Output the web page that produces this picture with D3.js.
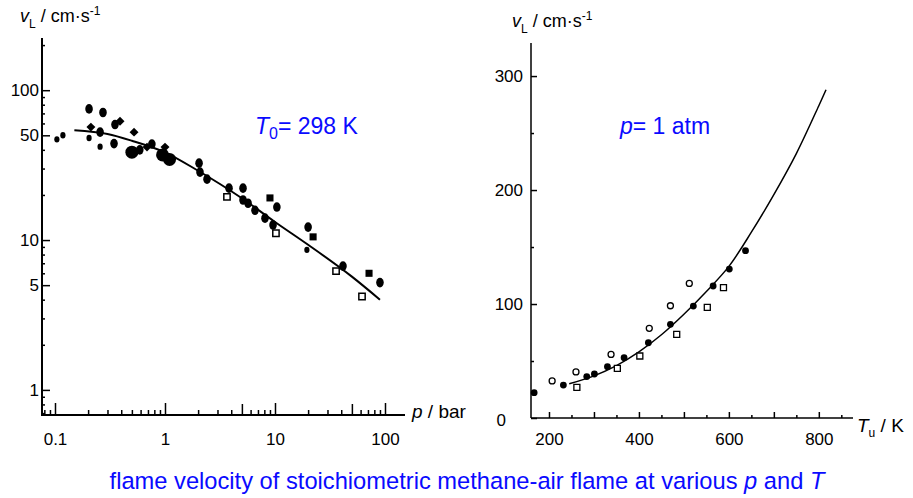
<!DOCTYPE html>
<html>
<head>
<meta charset="utf-8">
<script src="https://cdn.jsdelivr.net/npm/d3@7"></script>
<style>
  body { margin: 0; background: #fff; }
  text { font-family: 'Liberation Sans', Arial, sans-serif; }
</style>
</head>
<body>
<div id="chart"></div>
<script>
// Left panel: flame velocity vs pressure (T0 = 298 K), [p / bar, vL / cm/s]
const pSmallDots = [[0.104, 47], [0.118, 50], [0.204, 48], [0.257, 42], [19.5, 8.6]];
const pDots = [[0.204, 75], [0.273, 71], [0.257, 52.5], [0.351, 59], [0.344, 44], [0.59, 40],
    [0.76, 43.7], [2.04, 32.6], [2.08, 28.4], [2.41, 25.5], [3.82, 22.2], [5.12, 22.2],
    [5.12, 18.5], [5.69, 17.6], [6.58, 15.8], [8.11, 14], [10.4, 16.6], [9.6, 12.6],
    [20, 12.2], [41.5, 6.7], [90, 5.2]];
const pBlobs = [[0.5, 38.6], [0.95, 37], [1.1, 34.5]];
const pDiamonds = [[0.212, 56.7], [0.39, 62], [0.523, 52.5], [0.686, 41.7], [1.0, 41.7]];
const pFilledSquares = [[9.0, 19.1], [22.2, 10.5], [71.6, 6.0]];
const pOpenSquares = [[3.66, 19.4], [10.2, 11.1], [35.9, 6.2], [61.8, 4.2]];
const pFitP = [0.15, 0.3, 0.5, 1, 2, 5, 10, 20, 50, 90];
const pFitV = [54, 51, 46, 38.5, 29, 19, 13.2, 9.3, 5.7, 4.0];
const pXLabels = [0.1, 1, 10, 100];
const pYLabels = [1, 5, 10, 50, 100];

// Right panel: flame velocity vs unburnt temperature (p = 1 atm), [Tu / K, vL / cm/s]
const tFilled = [[167, 22.2], [232, 28.9], [284, 36.3], [301, 38.6], [330, 45], [367, 52.9],
    [421, 66], [470, 82.2], [521, 98.2], [565, 115.8], [601, 130.7], [637, 146.8]];
const tOpenCircles = [[207, 32.5], [260, 40.4], [338, 55.8], [423, 78.7], [470, 98.5], [512, 118.1]];
const tOpenSquares = [[262, 26.9], [352, 43.6], [402, 54.4], [484, 73.4], [552, 97.1], [588, 114.3]];
const tFitT = [245, 300, 350, 400, 450, 500, 550, 600, 650, 700, 750, 800, 816];
const tFitV = [30, 37, 46, 58, 73, 91, 111, 133, 163, 196, 232, 274, 288];
const tXLabels = [200, 400, 600, 800];
const tYLabels = [0, 100, 200, 300];

const caption = 'flame velocity of stoichiometric methane-air flame at various ';
const blue = '#0a0aff';

document.addEventListener('DOMContentLoaded', () => {
    const svg = d3.select('#chart')
        .append('svg')
        .attr('width', 913)
        .attr('height', 498);

    // ---------- Left panel ----------
    const xL = d3.scaleLog().domain([0.0746, 152]).range([41, 405]);
    const yL = d3.scaleLog().domain([0.68, 223]).range([415, 38]);

    const left = svg.append('g');

    // minor ticks
    const xMinor = xL.ticks().filter(d => !pXLabels.includes(d));
    const xMid = xMinor.filter(d => /^5/.test(String(d)));
    left.append('g')
        .attr('transform', 'translate(0,415)')
        .call(d3.axisBottom(xL).tickValues(xMinor.filter(d => !xMid.includes(d))).tickSize(-5).tickFormat(''))
        .call(g => g.select('.domain').remove());
    left.append('g')
        .attr('transform', 'translate(0,415)')
        .call(d3.axisBottom(xL).tickValues(xMid).tickSize(-11).tickFormat(''))
        .call(g => g.select('.domain').remove());
    left.append('g')
        .attr('transform', 'translate(0,415)')
        .call(d3.axisBottom(xL).tickValues(pXLabels).tickSize(-12).tickPadding(18)
            .tickFormat(d => String(d)))
        .call(g => g.select('.domain').attr('d', 'M41,0H405').attr('stroke-width', 2));

    const yMinor = yL.ticks().filter(d => !pYLabels.includes(d));
    left.append('g')
        .attr('transform', 'translate(42,0)')
        .call(d3.axisLeft(yL).tickValues(yMinor).tickSize(-3).tickFormat(''))
        .call(g => g.select('.domain').remove());
    left.append('g')
        .attr('transform', 'translate(42,0)')
        .call(d3.axisLeft(yL).tickValues(pYLabels).tickSize(-8).tickPadding(3)
            .tickFormat(d => String(d)))
        .call(g => g.select('.domain').attr('d', 'M0,38V415').attr('stroke-width', 2));

    left.selectAll('.tick line').attr('stroke-width', 1.5);
    left.selectAll('.tick text').attr('font-size', 17).attr('fill', '#000')
        .style('font-family', "'Liberation Sans', Arial, sans-serif");

    // fit line
    const fitL = d3.line()
        .x(d => xL(d[0]))
        .y(d => yL(d[1]))
        .curve(d3.curveMonotoneX);
    left.append('path')
        .datum(pFitP.map((p, i) => [p, pFitV[i]]))
        .attr('d', fitL)
        .attr('fill', 'none')
        .attr('stroke', '#000')
        .attr('stroke-width', 2);

    // markers
    const ellipses = (data, rx, ry) => left.append('g')
        .selectAll('ellipse')
        .data(data)
        .enter()
        .append('ellipse')
        .attr('cx', d => xL(d[0]))
        .attr('cy', d => yL(d[1]))
        .attr('rx', rx)
        .attr('ry', ry)
        .attr('fill', '#000');
    ellipses(pSmallDots, 2.6, 3.2);
    ellipses(pDots, 3.8, 4.8);
    ellipses(pBlobs, 6.5, 6.5);

    left.append('g')
        .selectAll('path')
        .data(pDiamonds)
        .enter()
        .append('path')
        .attr('d', d3.symbol(d3.symbolSquare, 40))
        .attr('transform', d => `translate(${xL(d[0])},${yL(d[1])}) rotate(45)`)
        .attr('fill', '#000');
    left.append('g')
        .selectAll('path')
        .data(pFilledSquares)
        .enter()
        .append('path')
        .attr('d', d3.symbol(d3.symbolSquare, 50))
        .attr('transform', d => `translate(${xL(d[0])},${yL(d[1])})`)
        .attr('fill', '#000');
    left.append('g')
        .selectAll('path')
        .data(pOpenSquares)
        .enter()
        .append('path')
        .attr('d', d3.symbol(d3.symbolSquare, 40))
        .attr('transform', d => `translate(${xL(d[0])},${yL(d[1])})`)
        .attr('fill', '#fff')
        .attr('stroke', '#000')
        .attr('stroke-width', 1.5);

    // ---------- Right panel ----------
    const xR = d3.scaleLinear().domain([160, 876]).range([531, 853]);
    const yR = d3.scaleLinear().domain([0, 329]).range([418, 43]);

    const right = svg.append('g');

    right.append('g')
        .attr('transform', 'translate(0,418)')
        .call(d3.axisBottom(xR).tickValues(d3.range(250, 900, 100)).tickSize(-3).tickFormat(''))
        .call(g => g.select('.domain').remove());
    right.append('g')
        .attr('transform', 'translate(0,418)')
        .call(d3.axisBottom(xR).tickValues(d3.range(200, 900, 100)).tickSize(-6).tickPadding(15)
            .tickFormat(d => tXLabels.includes(d) ? d : ''))
        .call(g => g.select('.domain').attr('d', 'M531,0H853').attr('stroke-width', 1.5));

    right.append('g')
        .attr('transform', 'translate(531,0)')
        .call(d3.axisLeft(yR).tickValues([50, 150, 250]).tickSize(-3).tickFormat(''))
        .call(g => g.select('.domain').remove());
    right.append('g')
        .attr('transform', 'translate(531,0)')
        .call(d3.axisLeft(yR).tickValues(tYLabels).tickSize(-6).tickPadding(8))
        .call(g => g.select('.domain').attr('d', 'M0,43V418').attr('stroke-width', 1.5))
        .call(g => g.selectAll('.tick').filter(d => d === 0)
            .select('text').attr('x', -25).attr('dy', '0.45em'));

    right.selectAll('.tick line').attr('stroke-width', 1.5);
    right.selectAll('.tick text').attr('font-size', 17).attr('fill', '#000')
        .style('font-family', "'Liberation Sans', Arial, sans-serif");

    const fitR = d3.line()
        .x(d => xR(d[0]))
        .y(d => yR(d[1]))
        .curve(d3.curveCatmullRom);
    right.append('path')
        .datum(tFitT.map((t, i) => [t, tFitV[i]]))
        .attr('d', fitR)
        .attr('fill', 'none')
        .attr('stroke', '#000')
        .attr('stroke-width', 1.5);

    right.append('g')
        .selectAll('circle')
        .data(tFilled)
        .enter()
        .append('circle')
        .attr('cx', d => xR(d[0]))
        .attr('cy', d => yR(d[1]))
        .attr('r', 3.4)
        .attr('fill', '#000');
    right.append('g')
        .selectAll('circle')
        .data(tOpenCircles)
        .enter()
        .append('circle')
        .attr('cx', d => xR(d[0]))
        .attr('cy', d => yR(d[1]))
        .attr('r', 3)
        .attr('fill', '#fff')
        .attr('stroke', '#000')
        .attr('stroke-width', 1.3);
    right.append('g')
        .selectAll('path')
        .data(tOpenSquares)
        .enter()
        .append('path')
        .attr('d', d3.symbol(d3.symbolSquare, 36))
        .attr('transform', d => `translate(${xR(d[0])},${yR(d[1])})`)
        .attr('fill', '#fff')
        .attr('stroke', '#000')
        .attr('stroke-width', 1.3);

    // ---------- Labels ----------
    const vTitle = (x, y) => {
        const t = svg.append('text')
            .attr('x', x)
            .attr('y', y)
            .attr('font-size', 18)
            .attr('fill', '#000');
        t.append('tspan').attr('font-style', 'italic').text('v');
        t.append('tspan').attr('font-size', 12).attr('dy', 6).text('L');
        t.append('tspan').attr('dy', -6).text(' / cm·s');
        t.append('tspan').attr('font-size', 12).attr('dy', -7).text('-1');
    };
    vTitle(20, 22);
    vTitle(512, 27);

    const pTitle = svg.append('text')
        .attr('x', 412).attr('y', 418)
        .attr('font-size', 19);
    pTitle.append('tspan').attr('font-style', 'italic').text('p');
    pTitle.append('tspan').text(' / bar');

    const tTitle = svg.append('text')
        .attr('x', 857).attr('y', 432)
        .attr('font-size', 19);
    tTitle.append('tspan').attr('font-style', 'italic').text('T');
    tTitle.append('tspan').attr('font-size', 12).attr('dy', 5).text('u');
    tTitle.append('tspan').attr('dy', -5).text(' / K');

    const t0 = svg.append('text')
        .attr('x', 255).attr('y', 134)
        .attr('font-size', 23)
        .attr('fill', blue);
    t0.append('tspan').attr('font-style', 'italic').text('T');
    t0.append('tspan').attr('font-size', 16).attr('dy', 5).text('0');
    t0.append('tspan').attr('dy', -5).text('= 298 K');

    const pAtm = svg.append('text')
        .attr('x', 620).attr('y', 134)
        .attr('font-size', 23)
        .attr('fill', blue);
    pAtm.append('tspan').attr('font-style', 'italic').text('p');
    pAtm.append('tspan').text('= 1 atm');

    const cap = svg.append('text')
        .attr('x', 467).attr('y', 489)
        .attr('text-anchor', 'middle')
        .attr('font-size', 23.7)
        .attr('fill', blue);
    cap.append('tspan').text(caption);
    cap.append('tspan').attr('font-style', 'italic').text('p');
    cap.append('tspan').text(' and ');
    cap.append('tspan').attr('font-style', 'italic').text('T');
});
</script>
</body>
</html>
